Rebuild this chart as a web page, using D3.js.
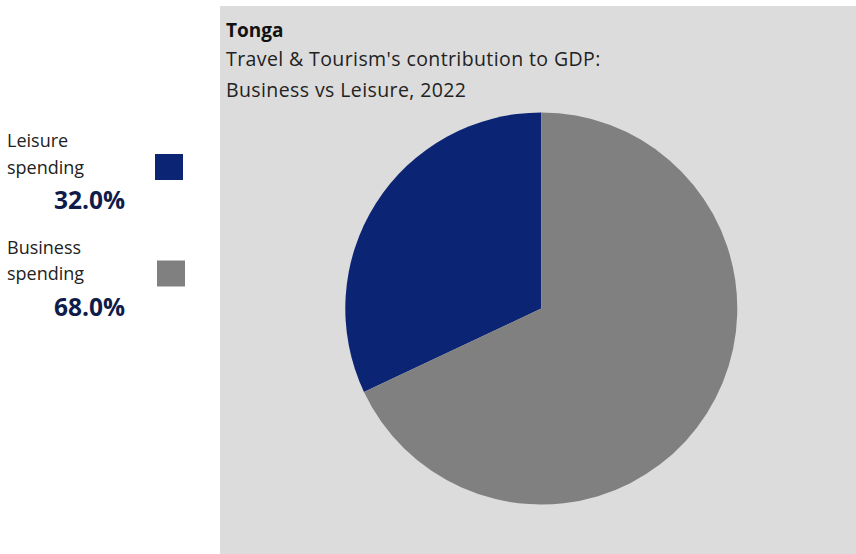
<!DOCTYPE html>
<html>
<head>
<meta charset="utf-8">
<script src="https://cdn.jsdelivr.net/npm/d3@7"></script>
<style>
  html, body { margin: 0; padding: 0; background: #ffffff; }
  svg { display: block; }
  text { font-family: "Open Sans", "Lato", sans-serif; }
</style>
</head>
<body>
<svg id="chart" width="856" height="554"></svg>
<script>
// Spending shares, drawn counter-clockwise from 12 o'clock starting with leisure
const categories = ["Leisure spending", "Business spending"];
const labelLines = [["Leisure", "spending"], ["Business", "spending"]];
const shares = [32.0, 68.0];
const colors = ["#0c2474", "#808080"];

const titleText = "Tonga";
const subtitleLines = ["Travel & Tourism's contribution to GDP:", "Business vs Leisure, 2022"];

const svg = d3.select("#chart");
const W = 856, H = 554;

// Grey chart panel
svg.append("rect")
  .attr("x", 220).attr("y", 6)
  .attr("width", W - 220).attr("height", H - 6)
  .attr("fill", "#dcdcdc");

// Titles
svg.append("text")
  .attr("x", 226).attr("y", 37)
  .attr("font-size", 19).attr("font-weight", 700)
  .attr("fill", "#111111")
  .text(titleText);

subtitleLines.forEach((t, i) => {
  svg.append("text")
    .attr("x", 226).attr("y", 66 + i * 31)
    .attr("font-size", 19.5)
    .attr("letter-spacing", 0.4)
    .attr("fill", "#222222")
    .text(t);
});

// Pie
const cx = 541.3, cy = 308.5, r = 196;
const data = categories.map((c, i) => ({ name: c, value: shares[i], color: colors[i] }));

const pie = d3.pie()
  .value(d => d.value)
  .sort(null)
  .startAngle(0)
  .endAngle(-2 * Math.PI);

const arc = d3.arc().innerRadius(0).outerRadius(r);

svg.append("g")
  .attr("transform", `translate(${cx},${cy})`)
  .selectAll("path")
  .data(pie(data))
  .join("path")
  .attr("d", arc)
  .attr("fill", d => d.data.color);

// Legend on the left
const legendTop = [147, 253.5];
const swatchX = [155, 157];
data.forEach((d, i) => {
  const g = svg.append("g");
  labelLines[i].forEach((line, j) => {
    g.append("text")
      .attr("x", 7).attr("y", legendTop[i] + j * 26.5)
      .attr("font-size", 18)
      .attr("fill", "#222222")
      .text(line);
  });
  g.append("rect")
    .attr("x", swatchX[i]).attr("y", legendTop[i] + 7)
    .attr("width", 28).attr("height", 26)
    .attr("fill", d.color);
  g.append("text")
    .attr("x", 125).attr("y", legendTop[i] + 62)
    .attr("text-anchor", "end")
    .attr("font-size", 24.5).attr("font-weight", 700)
    .attr("fill", "#0f1c4a")
    .text(d3.format(".1f")(d.value) + "%");
});
</script>
</body>
</html>
